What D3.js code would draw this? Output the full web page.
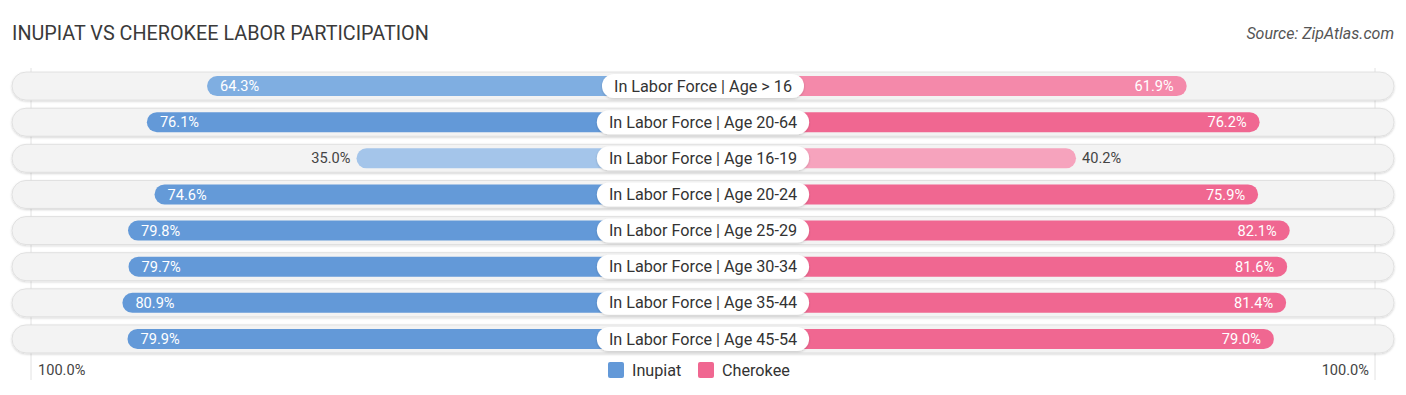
<!DOCTYPE html>
<html>
<head>
<meta charset="utf-8">
<script src="https://cdn.jsdelivr.net/npm/d3@7"></script>
<style>
body { margin: 0; background: #fff; }
text { font-family: Roboto, "Noto Sans", sans-serif; }
</style>
</head>
<body>
<svg id="chart" width="1406" height="395"></svg>
<script>
var categories = ["In Labor Force | Age > 16", "In Labor Force | Age 20-64", "In Labor Force | Age 16-19",
	"In Labor Force | Age 20-24", "In Labor Force | Age 25-29", "In Labor Force | Age 30-34",
	"In Labor Force | Age 35-44", "In Labor Force | Age 45-54"];
var inupiat = [64.3, 76.1, 35.0, 74.6, 79.8, 79.7, 80.9, 79.9];
var cherokee = [61.9, 76.2, 40.2, 75.9, 82.1, 81.6, 81.4, 79.0];
var seriesNames = ["Inupiat", "Cherokee"];
var axisLabels = ["100.0%", "100.0%"];

var svg = d3.select("#chart"),
	cx = 703,
	gap = 168,
	span = 510;

var defs = svg.append("defs");
var f = defs.append("filter").attr("id", "sh").attr("x", "-5%").attr("y", "-30%").attr("width", "110%").attr("height", "160%");
f.append("feDropShadow").attr("dx", 0).attr("dy", 1).attr("stdDeviation", 1.2).attr("flood-color", "#000").attr("flood-opacity", 0.18);

// left and right scales from the value to the bar end
var xl = d3.scaleLinear().domain([0, 100]).range([cx - gap, cx - gap - span]);
var xr = d3.scaleLinear().domain([0, 100]).range([cx + gap, cx + gap + span]);

var y = d3.scaleBand().domain(d3.range(categories.length)).range([68, 357]).paddingInner(0);

var blue = d3.scaleLinear().domain([30, 65, 75]).range(["#aac9ec", "#7eade1", "#6399d8"]).clamp(true);
var pink = d3.scaleLinear().domain([35, 62, 75]).range(["#f7a9c1", "#f489aa", "#f06791"]).clamp(true);

svg.append("text").attr("x", 12).attr("y", 40)
	.style("font-size", "19.8px").style("fill", "#3a3a3a")
	.text("INUPIAT VS CHEROKEE LABOR PARTICIPATION");
svg.append("text").attr("x", 1394).attr("y", 39).attr("text-anchor", "end")
	.style("font-size", "16px").style("font-style", "italic").style("fill", "#555")
	.text("Source: ZipAtlas.com");

// grid lines at 100%
[31, 1375].forEach(function(x) {
	svg.append("line").attr("x1", x).attr("x2", x).attr("y1", 68).attr("y2", 380)
		.style("stroke", "#e2e2e2").style("stroke-width", 1);
});

var rows = svg.append("g").selectAll("g")
	.data(categories)
	.enter().append("g")
	.attr("transform", function(d, i) { return "translate(0," + (y(i) + y.bandwidth() / 2) + ")"; });

rows.append("rect")
	.attr("x", 12).attr("y", -14).attr("width", 1382).attr("height", 28).attr("rx", 14)
	.style("fill", "#f3f3f3").style("stroke", "#dcdcdc").style("stroke-width", 0.8)
	.attr("filter", "url(#sh)");

rows.append("rect")
	.attr("x", function(d, i) { return xl(inupiat[i]); })
	.attr("y", -10).attr("height", 20).attr("rx", 10)
	.attr("width", function(d, i) { return cx - xl(inupiat[i]); })
	.style("fill", function(d, i) { return blue(inupiat[i]); });

rows.append("rect")
	.attr("x", cx).attr("y", -10).attr("height", 20).attr("rx", 10)
	.attr("width", function(d, i) { return xr(cherokee[i]) - cx; })
	.style("fill", function(d, i) { return pink(cherokee[i]); });

rows.append("text")
	.attr("x", function(d, i) { return inupiat[i] < 50 ? xl(inupiat[i]) - 6 : xl(inupiat[i]) + 13; })
	.attr("dy", "0.35em")
	.attr("text-anchor", function(d, i) { return inupiat[i] < 50 ? "end" : "start"; })
	.style("font-size", "14.6px")
	.style("fill", function(d, i) { return inupiat[i] < 50 ? "#444" : "#fff"; })
	.text(function(d, i) { return inupiat[i].toFixed(1) + "%"; });

rows.append("text")
	.attr("x", function(d, i) { return cherokee[i] < 50 ? xr(cherokee[i]) + 6 : xr(cherokee[i]) - 13; })
	.attr("dy", "0.35em")
	.attr("text-anchor", function(d, i) { return cherokee[i] < 50 ? "start" : "end"; })
	.style("font-size", "14.6px")
	.style("fill", function(d, i) { return cherokee[i] < 50 ? "#444" : "#fff"; })
	.text(function(d, i) { return cherokee[i].toFixed(1) + "%"; });

// center label pills
var labels = rows.append("g");
labels.append("text")
	.attr("x", cx).attr("dy", "0.35em").attr("text-anchor", "middle")
	.style("font-size", "16.2px").style("fill", "#333")
	.text(function(d) { return d; })
	.each(function() {
		var bb = this.getBBox();
		d3.select(this.parentNode).insert("rect", "text")
			.attr("x", bb.x - 12).attr("y", -12).attr("width", bb.width + 24).attr("height", 24).attr("rx", 12)
			.style("fill", "#fff").attr("filter", "url(#sh)");
	});

// bottom axis labels and legend
svg.append("text").attr("x", 38).attr("y", 375).style("font-size", "14.6px").style("fill", "#444").text(axisLabels[0]);
svg.append("text").attr("x", 1369).attr("y", 375).attr("text-anchor", "end").style("font-size", "14.6px").style("fill", "#444").text(axisLabels[1]);

var legend = svg.append("g").selectAll("g")
	.data(seriesNames)
	.enter().append("g")
	.attr("transform", function(d, i) { return "translate(" + (608 + i * 90) + ",362)"; });
legend.append("rect").attr("width", 16).attr("height", 16).attr("rx", 2)
	.style("fill", function(d, i) { return i === 0 ? "#6399d8" : "#f06791"; });
legend.append("text").attr("x", 24).attr("y", 13.5)
	.style("font-size", "16.2px").style("fill", "#333")
	.text(function(d) { return d; });
</script>
</body>
</html>
